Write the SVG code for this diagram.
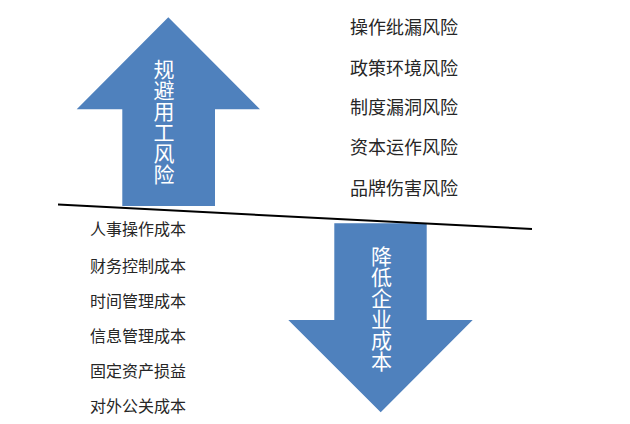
<svg xmlns="http://www.w3.org/2000/svg" width="630" height="424" viewBox="0 0 630 424">
<style>
.arrow{fill:#4F81BD;}
.vt{fill:#fff;font-family:"Noto Sans CJK SC","Noto Sans",sans-serif;font-size:21px;writing-mode:vertical-rl;text-orientation:upright;}
.rt{fill:#262626;font-family:"Noto Sans CJK SC","Noto Sans",sans-serif;font-size:18px;dominant-baseline:central;}
.lt{fill:#262626;font-family:"Noto Sans CJK SC","Noto Sans",sans-serif;font-size:16px;dominant-baseline:central;}
</style>
<rect width="630" height="424" fill="#fff"/>
<g id="up-arrow">
<polygon class="arrow" points="168.3,17.3 260,109.3 215,109.3 215,206 122.3,206 122.3,109.3 76.7,109.3"/>
<text class="vt" x="164" y="58.5">规避用工风险</text>
</g>
<g id="down-arrow">
<polygon class="arrow" points="334.3,223.3 426.7,223.3 426.7,320 472.7,320 380.7,412.3 288.3,320 334.3,320"/>
<text class="vt" x="381.5" y="245.5">降低企业成本</text>
</g>
<g id="connectors">
<line x1="58" y1="204.5" x2="532" y2="229" stroke="#000" stroke-width="2"/>
</g>
<g id="risks">
<text class="rt" x="350" y="25.5">操作纰漏风险</text>
<text class="rt" x="350" y="67">政策环境风险</text>
<text class="rt" x="350" y="106">制度漏洞风险</text>
<text class="rt" x="350" y="146">资本运作风险</text>
<text class="rt" x="350" y="186.5">品牌伤害风险</text>
</g>
<g id="costs">
<text class="lt" x="90" y="228">人事操作成本</text>
<text class="lt" x="90" y="265">财务控制成本</text>
<text class="lt" x="90" y="300">时间管理成本</text>
<text class="lt" x="90" y="335">信息管理成本</text>
<text class="lt" x="90" y="370">固定资产损益</text>
<text class="lt" x="90" y="405">对外公关成本</text>
</g>
</svg>
